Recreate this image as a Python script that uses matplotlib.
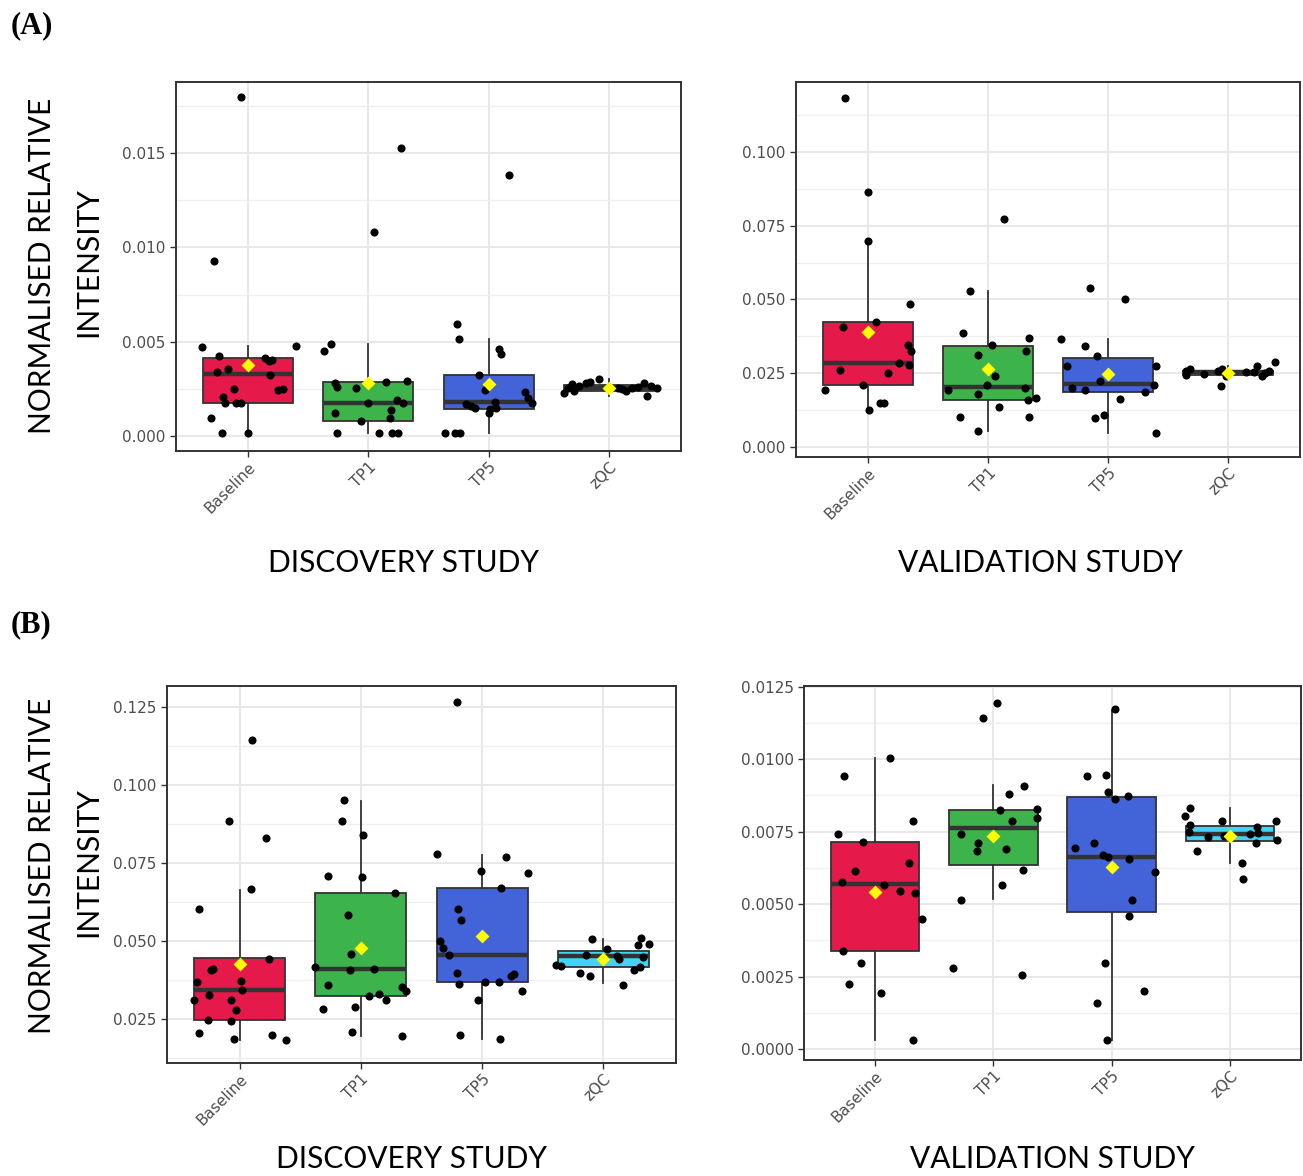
import matplotlib
matplotlib.use("Agg")
import matplotlib.pyplot as plt
from matplotlib.ticker import FixedLocator, FormatStrFormatter

groups = ["Baseline", "TP1", "TP5", "zQC"]
colors = ["#e6194b", "#3cb44b", "#4363d8", "#42d4f4"]

# (A) discovery study: point values and horizontal jitter (category units)
a_disc_vals = [
    [0.0180, 0.0093, 0.00472, 0.00477, 0.00424, 0.00339, 0.00353, 0.00412, 0.00398, 0.00403, 0.00325,
     0.00251, 0.00208, 0.00177, 0.00177, 0.00177, 0.00242, 0.00247, 0.00097, 0.00014, 0.00014],
    [0.01528, 0.01081, 0.0045, 0.00486, 0.00283, 0.00262, 0.00253, 0.00288, 0.00292, 0.00173, 0.0012,
     0.00189, 0.00177, 0.00138, 0.00097, 0.0008, 0.00014, 0.00014, 0.00014, 0.00014],
    [0.01384, 0.00595, 0.00516, 0.00463, 0.00433, 0.00322, 0.00242, 0.00168, 0.00159, 0.0015, 0.00124,
     0.00141, 0.00182, 0.0015, 0.00233, 0.00203, 0.00173, 0.00014, 0.00014, 0.00014],
    [0.0023, 0.00256, 0.00274, 0.00239, 0.00279, 0.00288, 0.00304, 0.00247, 0.00256, 0.00251, 0.00239,
     0.0026, 0.00279, 0.00212, 0.00265, 0.00253, 0.00265, 0.00253],
]
a_disc_jit = [
    [-0.06, -0.28, -0.38, 0.40, -0.24, -0.26, -0.17, 0.14, 0.17, 0.20, 0.18, -0.12, -0.21, -0.19, -0.10,
     -0.06, 0.25, 0.29, -0.31, -0.22, 0.0],
    [0.27, 0.05, -0.37, -0.31, -0.28, -0.26, -0.10, 0.15, 0.32, 0.0, -0.28, 0.24, 0.29, 0.19, 0.18, -0.06,
     -0.26, 0.09, 0.20, 0.25],
    [0.17, -0.26, -0.25, 0.09, 0.10, -0.08, -0.03, -0.19, -0.15, -0.11, 0.0, 0.01, 0.05, 0.06, 0.30, 0.33,
     0.36, -0.36, -0.28, -0.24],
    [-0.37, -0.34, -0.31, -0.29, -0.19, -0.16, -0.08, 0.0, 0.08, 0.11, 0.14, 0.24, 0.29, 0.32, 0.35, 0.40,
     -0.25, 0.19],
]
a_disc_q1 = [0.00177, 0.0008, 0.00141, 0.00239]
a_disc_med = [0.0033, 0.00177, 0.00182, 0.00253]
a_disc_q3 = [0.00412, 0.00288, 0.00322, 0.00269]
a_disc_lo = [0.00014, 0.00014, 0.00018, 0.00212]
a_disc_hi = [0.00477, 0.00486, 0.00512, 0.00304]
a_disc_mean = [0.00376, 0.00283, 0.00277, 0.00253]

# (A) validation study
a_val_vals = [
    [0.1184, 0.0865, 0.0699, 0.0485, 0.0405, 0.0423, 0.0346, 0.0324, 0.0284, 0.0277, 0.0262, 0.025,
     0.0211, 0.0192, 0.0149, 0.0149, 0.0126],
    [0.0771, 0.0530, 0.0386, 0.0369, 0.0346, 0.0312, 0.0326, 0.0241, 0.0209, 0.0192, 0.0200, 0.0180,
     0.0158, 0.0166, 0.0134, 0.0101, 0.0101, 0.0055],
    [0.0538, 0.0501, 0.0365, 0.0343, 0.0307, 0.0273, 0.0273, 0.0222, 0.0200, 0.0192, 0.0209, 0.0188,
     0.0163, 0.0109, 0.0098, 0.0047],
    [0.0245, 0.0256, 0.0264, 0.0248, 0.0256, 0.0264, 0.0207, 0.0239, 0.0253, 0.0276, 0.0241, 0.0250,
     0.0256, 0.0287, 0.0253],
]
a_val_jit = [
    [-0.19, 0.0, 0.0, 0.35, -0.21, 0.07, 0.33, 0.36, 0.26, 0.34, -0.23, 0.17, -0.04, -0.36, 0.10, 0.13, 0.01],
    [0.13, -0.15, -0.21, 0.34, 0.03, -0.08, 0.32, 0.06, -0.01, -0.33, 0.31, -0.08, 0.33, 0.40, 0.09, -0.23,
     0.34, -0.08],
    [-0.15, 0.14, -0.39, -0.19, -0.09, -0.34, 0.40, -0.07, -0.30, -0.19, 0.38, 0.31, 0.10, -0.03, -0.11, 0.40],
    [-0.35, -0.35, -0.32, -0.20, -0.08, -0.05, -0.06, -0.02, 0.15, 0.24, 0.28, 0.31, 0.34, 0.39, 0.22],
]
a_val_q1 = [0.0211, 0.0158, 0.0188, 0.0245]
a_val_med = [0.0286, 0.0204, 0.0214, 0.0253]
a_val_q3 = [0.0423, 0.0343, 0.0300, 0.0259]
a_val_lo = [0.0126, 0.0055, 0.0047, 0.0239]
a_val_hi = [0.0699, 0.0530, 0.0365, 0.0276]
a_val_mean = [0.0389, 0.0265, 0.0248, 0.0250]

# (B) discovery study
b_disc_vals = [
    [0.1145, 0.0885, 0.0829, 0.0665, 0.0601, 0.0442, 0.0408, 0.0409, 0.0367, 0.0372, 0.0342, 0.0326,
     0.0310, 0.0310, 0.0278, 0.0248, 0.0243, 0.0205, 0.0199, 0.0185, 0.0182],
    [0.0952, 0.0886, 0.0838, 0.0708, 0.0706, 0.0655, 0.0583, 0.0458, 0.0417, 0.0408, 0.0409, 0.0358,
     0.0353, 0.0340, 0.0331, 0.0323, 0.0312, 0.0283, 0.0289, 0.0208, 0.0194],
    [0.1265, 0.0778, 0.0770, 0.0719, 0.0724, 0.0669, 0.0601, 0.0567, 0.0500, 0.0479, 0.0455, 0.0398,
     0.0393, 0.0387, 0.0363, 0.0367, 0.0369, 0.0340, 0.0310, 0.0200, 0.0187],
    [0.0505, 0.0508, 0.0490, 0.0487, 0.0474, 0.0451, 0.0455, 0.0441, 0.0449, 0.0422, 0.0419, 0.0417,
     0.0406, 0.0396, 0.0388, 0.0360],
]
b_disc_jit = [
    [0.10, -0.09, 0.22, 0.09, -0.34, 0.24, -0.24, -0.22, -0.35, 0.01, 0.02, -0.25, -0.38, -0.07, -0.03,
     -0.26, -0.07, -0.34, 0.27, -0.05, 0.38],
    [-0.14, -0.16, 0.02, -0.27, 0.01, 0.28, -0.11, -0.08, -0.38, -0.09, 0.11, -0.27, 0.34, 0.37, 0.15,
     0.07, 0.21, -0.31, -0.05, -0.07, 0.34],
    [-0.21, -0.37, 0.20, 0.38, -0.01, 0.16, -0.20, -0.17, -0.35, -0.32, -0.27, -0.21, 0.26, 0.24, -0.19,
     0.02, 0.14, 0.33, -0.03, -0.18, 0.15],
    [-0.09, 0.31, 0.38, 0.29, 0.03, 0.11, -0.14, 0.13, 0.33, -0.39, -0.35, 0.30, 0.25, -0.19, -0.11, 0.16],
]
b_disc_q1 = [0.0248, 0.0323, 0.0367, 0.0417]
b_disc_med = [0.0342, 0.0410, 0.0455, 0.0451]
b_disc_q3 = [0.0444, 0.0655, 0.0669, 0.0467]
b_disc_lo = [0.0184, 0.0194, 0.0187, 0.0364]
b_disc_hi = [0.0663, 0.0950, 0.0774, 0.0505]
b_disc_mean = [0.0426, 0.0477, 0.0517, 0.0441]

# (B) validation study
b_val_vals = [
    [0.01003, 0.00941, 0.00786, 0.0074, 0.00714, 0.00642, 0.00613, 0.00575, 0.00567, 0.00545, 0.00538,
     0.0045, 0.00337, 0.00298, 0.00223, 0.00192, 0.00031],
    [0.01194, 0.01141, 0.00907, 0.0088, 0.00825, 0.00828, 0.00798, 0.00786, 0.00743, 0.0071, 0.00682,
     0.00689, 0.00616, 0.00565, 0.00515, 0.00281, 0.00254],
    [0.01171, 0.0094, 0.00946, 0.00886, 0.00861, 0.00871, 0.00694, 0.0071, 0.0067, 0.00662, 0.00657,
     0.00611, 0.00513, 0.00459, 0.00298, 0.002, 0.00157, 0.00031],
    [0.00803, 0.00832, 0.00771, 0.00748, 0.00682, 0.00731, 0.00785, 0.00735, 0.00642, 0.00588, 0.00743,
     0.00766, 0.00746, 0.0071, 0.00786, 0.00722],
]
b_val_jit = [
    [0.13, -0.26, 0.32, -0.31, -0.10, 0.29, -0.17, -0.28, 0.08, 0.21, 0.34, 0.40, -0.27, -0.12, -0.22, 0.05, 0.32],
    [0.03, -0.09, 0.26, 0.13, 0.06, 0.37, 0.37, 0.16, -0.27, -0.13, -0.14, 0.11, 0.25, 0.07, -0.27, -0.34, 0.24],
    [0.03, -0.21, -0.05, -0.03, 0.03, 0.14, -0.31, -0.15, -0.07, -0.03, 0.15, 0.37, 0.17, 0.15, -0.06, 0.27,
     -0.12, -0.04],
    [-0.38, -0.34, -0.34, -0.35, -0.28, -0.19, -0.07, -0.05, 0.10, 0.11, 0.17, 0.23, 0.24, 0.22, 0.39, 0.40],
]
b_val_q1 = [0.00337, 0.00634, 0.00473, 0.00717]
b_val_med = [0.0057, 0.00763, 0.00662, 0.0074]
b_val_q3 = [0.00714, 0.00823, 0.00869, 0.00768]
b_val_lo = [0.00031, 0.00519, 0.00031, 0.00643]
b_val_hi = [0.01003, 0.00909, 0.0117, 0.00831]
b_val_mean = [0.00542, 0.00735, 0.00628, 0.00735]

a_disc_ticks = [0.0, 0.005, 0.010, 0.015]
a_val_ticks = [0.0, 0.025, 0.050, 0.075, 0.100]
b_disc_ticks = [0.025, 0.050, 0.075, 0.100, 0.125]
b_val_ticks = [0.0, 0.0025, 0.0050, 0.0075, 0.0100, 0.0125]

W, H = 1303, 1176
fig = plt.figure(figsize=(W / 100, H / 100), dpi=100)
fig.patch.set_facecolor("white")


def px_axes(x0, y0, x1, y1):
    return fig.add_axes([x0 / W, 1 - y1 / H, (x1 - x0) / W, (y1 - y0) / H])


def draw_panel(ax, vals, jit, q1, med, q3, lo, hi, mean, ticks, fmt, ylim):
    pos = [1, 2, 3, 4]
    stats = []
    for i in range(4):
        stats.append(dict(q1=q1[i], med=med[i], q3=q3[i], whislo=lo[i], whishi=hi[i], fliers=[]))
    bp = ax.bxp(stats, positions=pos, widths=0.75, patch_artist=True, showcaps=False,
                showfliers=False,
                boxprops=dict(edgecolor="#333333", linewidth=1.3),
                whiskerprops=dict(color="#333333", linewidth=1.3),
                medianprops=dict(color="#333333", linewidth=3.2, solid_capstyle="butt"))
    for patch, c in zip(bp["boxes"], colors):
        patch.set_facecolor(c)
        patch.set_zorder(2)
    for i in range(4):
        xs = [pos[i] + d for d in jit[i]]
        ax.scatter(xs, vals[i], s=34, color="black", linewidths=0, zorder=4)
    ax.scatter(pos, mean, marker="D", s=50, color="#ffff00", linewidths=0, zorder=5)

    ax.set_xlim(0.4, 4.6)
    ax.set_ylim(*ylim)
    ax.set_xticks(pos)
    ax.set_xticklabels(groups, rotation=45, ha="right", va="top", rotation_mode="anchor",
                       fontsize=11, color="#4d4d4d")
    ax.yaxis.set_major_locator(FixedLocator(ticks))
    step = ticks[1] - ticks[0]
    minor = [t + step / 2 for t in ticks] + [ticks[0] - step / 2]
    ax.yaxis.set_minor_locator(FixedLocator(minor))
    ax.yaxis.set_major_formatter(FormatStrFormatter(fmt))
    ax.tick_params(axis="y", which="major", labelsize=11, labelcolor="#4d4d4d", color="#333333",
                   length=4, width=1)
    ax.tick_params(axis="x", which="major", color="#333333", length=4, width=1, pad=2)
    ax.tick_params(axis="y", which="minor", length=0)
    ax.grid(True, which="major", color="#e6e6e6", linewidth=1.3)
    ax.grid(True, which="minor", axis="y", color="#efefef", linewidth=0.9)
    ax.set_axisbelow(True)
    for s in ax.spines.values():
        s.set_color("#333333")
        s.set_linewidth(1.4)


ax1 = px_axes(176, 82, 681, 451)
draw_panel(ax1, a_disc_vals, a_disc_jit, a_disc_q1, a_disc_med, a_disc_q3, a_disc_lo, a_disc_hi,
           a_disc_mean, a_disc_ticks, "%.3f", (-0.0008, 0.01877))
ax2 = px_axes(796, 82, 1300, 457)
draw_panel(ax2, a_val_vals, a_val_jit, a_val_q1, a_val_med, a_val_q3, a_val_lo, a_val_hi,
           a_val_mean, a_val_ticks, "%.3f", (-0.0034, 0.1237))
ax3 = px_axes(167, 686, 676, 1063)
draw_panel(ax3, b_disc_vals, b_disc_jit, b_disc_q1, b_disc_med, b_disc_q3, b_disc_lo, b_disc_hi,
           b_disc_mean, b_disc_ticks, "%.3f", (0.0109, 0.1317))
ax4 = px_axes(804, 686, 1301, 1060)
draw_panel(ax4, b_val_vals, b_val_jit, b_val_q1, b_val_med, b_val_q3, b_val_lo, b_val_hi,
           b_val_mean, b_val_ticks, "%.4f", (-0.00038, 0.01252))

big = dict(family="Lato", fontsize=21.5, color="black", ha="center", va="center")


def ftext(x, y, s, **kw):
    fig.text(x / W, 1 - y / H, s, **kw)


ftext(32, 26, "(A)", family="Liberation Serif", fontweight="bold", fontsize=22, ha="center", va="center")
ftext(31, 625, "(B)", family="Liberation Serif", fontweight="bold", fontsize=22, ha="center", va="center")

ftext(42, 266, "NORMALISED RELATIVE", rotation=90, **big)
ftext(88, 262, "INTENSITY", rotation=90, **big)
ftext(42, 866, "NORMALISED RELATIVE", rotation=90, **big)
ftext(88, 862, "INTENSITY", rotation=90, **big)

ftext(403, 563, "DISCOVERY STUDY", **big)
ftext(1040, 563, "VALIDATION STUDY", **big)
ftext(412, 1159, "DISCOVERY STUDY", **big)
ftext(1052, 1159, "VALIDATION STUDY", **big)

fig.savefig("out.png", dpi=100, facecolor="white")
